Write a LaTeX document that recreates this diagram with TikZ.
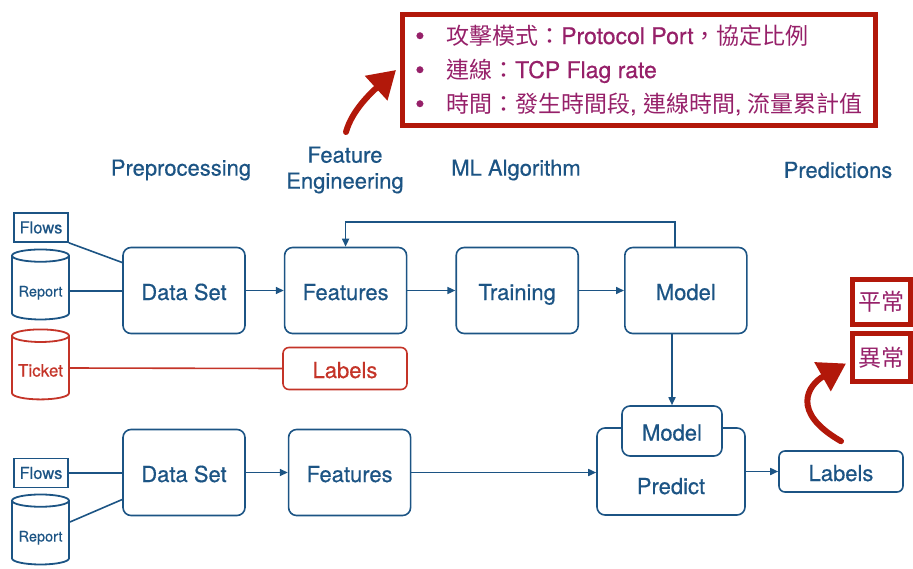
\documentclass[tikz,border=0pt]{standalone}
\usepackage{fontspec}
\setmainfont{TeX Gyre Heros}[FakeBold=0.5]
\newfontfamily\cjk{Noto Sans CJK TC}
\usetikzlibrary{positioning}
\usetikzlibrary{shapes.geometric}
\usetikzlibrary{arrows.meta}
\definecolor{flowblue}{RGB}{28,84,132}
\definecolor{ticketred}{RGB}{196,52,40}
\definecolor{alertred}{RGB}{178,24,10}
\definecolor{notepurple}{RGB}{150,32,105}
\tikzset{
  caption/.style={text=flowblue, font=\fontsize{22}{26}\selectfont, text height=19pt, text depth=0pt},
  stage/.style={caption, draw=flowblue, line width=1.6pt, rounded corners=8pt, inner sep=0pt, minimum width=122pt, minimum height=86pt},
  tag/.style={draw=flowblue, text=flowblue, line width=1.6pt, inner sep=0pt, minimum width=54pt, minimum height=29pt, font=\fontsize{16.5}{19}\selectfont},
  store/.style={cylinder, shape border rotate=90, aspect=0.28, draw=flowblue, text=flowblue, line width=1.8pt, inner sep=0pt, minimum width=57pt, minimum height=70pt, text height=17pt, text depth=0pt, font=\fontsize{14.5}{17}\selectfont},
  heading/.style={text=flowblue, font=\fontsize{22}{26}\selectfont, align=center},
  link/.style={flowblue, line width=1.6pt},
  feed/.style={link, -{Triangle[length=8pt,width=7pt]}},
  alarm/.style={draw=alertred, line width=5pt, text=notepurple, inner sep=0pt},
  hint/.style={alertred, line width=6pt, line cap=round, -{Triangle[length=27pt,width=32pt]}}
}
\newcommand{\notedot}{\makebox[31pt][l]{\raisebox{-1pt}{\fontsize{27}{27}\selectfont\textbullet}}}

\begin{document}
\begin{tikzpicture}[x=1pt, y=-1pt]
  \useasboundingbox (0,0) rectangle (913,568);

  % column headings
  \node[heading] (hpre) at (181,170) {Preprocessing};
  \node[heading] (hfeat) at (345,170) {Feature\\Engineering};
  \node[heading] (halgo) at (516,170) {ML Algorithm};
  \node[heading] (hpred) at (838,170) {Predictions};

  % training row
  \node[stage] (ds1) at (184,290.5) {Data Set};
  \foreach \n/\t/\gap [remember=\n as \prev (initially ds1)] in {feat1/Features/38pt, train/Training/48pt, model1/Model/45pt}{
    \node[stage, right=\gap of \prev] (\n) {\t};
  }
  \node[tag] (flows1) at (41,227.5) {Flows};
  \node[store] (report1) at (40.5,288) {Report};
  \node[store, draw=ticketred, text=ticketred, font=\fontsize{17}{19}\selectfont] (ticket) at (40.5,368) {Ticket};
  \node[stage, draw=ticketred, text=ticketred, rounded corners=6pt, minimum width=124pt, minimum height=42pt] (labels1) at (345,368.5) {Labels};

  \draw[link] (flows1.south east) -- ([yshift=28pt]ds1.west);
  \draw[link] ([yshift=-3pt]report1.east) -- ([yshift=-3pt]report1.east -| ds1.west);
  \draw[link, ticketred] (ticket.east) -- (labels1.west);
  \draw[feed] (ds1.east) -- (feat1.west);
  \draw[feed] (feat1.east) -- (train.west);
  \draw[feed] (train.east) -- (model1.west);
  \draw[feed] ([xshift=-11pt]model1.north) -- ++(0,-25) -| (feat1.north);

  % prediction row
  \node[stage] (ds2) at (184,472.5) {Data Set};
  \node[stage, right=42pt of ds2] (feat2) {Features};
  \node[stage, minimum width=148pt, minimum height=87pt, label={[caption, yshift=-13pt]center:Predict}] (predict) at (671,471.5) {};
  \node[stage, fill=white, minimum width=100pt, minimum height=50pt] (model2) at (672,431) {Model};
  \node[stage, rounded corners=6pt, minimum width=124pt, minimum height=41pt] (labels2) at (841,471.5) {Labels};
  \node[tag] (flows2) at (41,473) {Flows};
  \node[store] (report2) at (40.5,533) {Report};

  \draw[link] (flows2.east) -- (flows2.east -| ds2.west);
  \draw[link] ([yshift=11pt]report2.east) -- ([yshift=-27pt]ds2.west);
  \draw[feed] (ds2.east) -- (feat2.west);
  \draw[feed] (feat2.east) -- (feat2.east -| predict.west);
  \draw[feed] (predict.east) -- (labels2.west);
  \draw[feed] (model1.south -| model2.north) -- (model2.north);

  % feature notes and label classes
  \node[alarm, minimum width=473pt, minimum height=111pt, align=left, font=\fontsize{23}{34}\selectfont] (notes) at (639,70) {%
    \notedot{\cjk 攻擊模式：}Protocol Port{\cjk ，協定比例}\\
    \notedot{\cjk 連線：}TCP Flag rate\\
    \notedot{\cjk 時間：發生時間段}, {\cjk 連線時間}, {\cjk 流量累計值}};
  \node[alarm, minimum width=58pt, minimum height=45pt, font=\cjk\fontsize{23}{26}\selectfont] (normal) at (881.5,302) {平常};
  \node[alarm, minimum width=58pt, minimum height=48pt, font=\cjk\fontsize{23}{26}\selectfont] (abnormal) at (881.5,357.5) {異常};

  \coordinate (noteTail) at (346,132);
  \draw[hint] (noteTail) .. controls (352,110) and (372,92) .. ([xshift=-4pt]notes.west);
  \draw[hint] ([yshift=9pt]labels2.north) .. controls (790,412) and (808,385) .. ([shift={(-4pt,-6pt)}]abnormal.west);
\end{tikzpicture}
\end{document}
